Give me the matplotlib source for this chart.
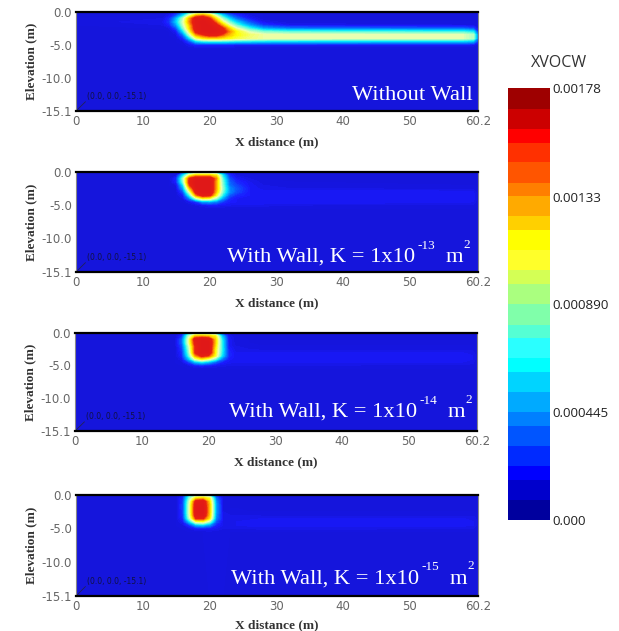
import numpy as np
import matplotlib
matplotlib.use("Agg")
import matplotlib.pyplot as plt
from matplotlib.colors import ListedColormap, BoundaryNorm, LinearSegmentedColormap
from matplotlib.cm import ScalarMappable

# grid nodes
x_nodes = [0, 13, 14, 15, 16, 17, 18, 19, 20, 21, 22, 23, 24, 26, 28, 32, 58, 59.5, 60.2]
z_nodes = [0, -0.5, -1, -1.5, -2, -2.5, -3, -3.5, -4, -4.5, -5, -5.5, -15.1]

# XVOCW x 1000, one row per z node
without_wall = [
    [.20, .20, .20, .25, .40, .60, .70, .70, .60, .40, .28, .22, .20, .20, .20, .20, .20, .20, .20],
    [.20, .20, .24, .35, .60, 1.0, 1.3, 1.4, 1.25, .90, .60, .40, .30, .22, .20, .20, .20, .20, .20],
    [.20, .22, .30, .55, .90, 1.35, 1.7, 1.72, 1.55, 1.2, .85, .60, .42, .26, .20, .20, .20, .20, .20],
    [.20, .24, .32, .60, .95, 1.4, 1.72, 1.78, 1.72, 1.4, 1.05, .80, .60, .36, .24, .20, .20, .20, .20],
    [.20, .22, .28, .50, .90, 1.3, 1.7, 1.78, 1.75, 1.6, 1.3, 1.0, .78, .50, .32, .24, .22, .22, .20],
    [.20, .20, .22, .35, .78, 1.25, 1.68, 1.78, 1.78, 1.72, 1.55, 1.25, 1.0, .72, .52, .42, .38, .34, .22],
    [.20, .20, .20, .25, .60, 1.1, 1.6, 1.75, 1.78, 1.75, 1.65, 1.4, 1.2, .95, .82, .76, .72, .66, .30],
    [.20, .20, .20, .22, .40, .90, 1.35, 1.5, 1.62, 1.6, 1.45, 1.3, 1.2, 1.08, 1.02, 1.0, .98, .90, .42],
    [.20, .20, .20, .20, .28, .62, 1.05, 1.2, 1.25, 1.25, 1.22, 1.18, 1.12, 1.06, 1.02, 1.0, .98, .90, .42],
    [.20, .20, .20, .20, .22, .35, .60, .68, .70, .70, .70, .68, .66, .64, .62, .60, .58, .54, .30],
    [.20, .20, .20, .20, .20, .24, .28, .28, .28, .28, .28, .27, .26, .26, .26, .26, .26, .24, .20],
    [.20] * 19,
    [.20] * 19,
]
k_13 = [
    [.20, .20, .20, .20, .24, .50, .65, .65, .65, .60, .35, .24, .20, .20, .20, .20, .20, .20, .20],
    [.20, .20, .20, .22, .62, 1.1, 1.3, 1.3, 1.3, 1.2, .65, .30, .22, .20, .20, .20, .20, .20, .20],
    [.20, .20, .20, .30, .85, 1.55, 1.72, 1.72, 1.72, 1.4, .75, .35, .26, .22, .20, .20, .20, .20, .20],
    [.20, .20, .20, .28, .80, 1.6, 1.78, 1.78, 1.78, 1.35, .80, .40, .30, .24, .21, .20, .20, .20, .20],
    [.20, .20, .20, .22, .62, 1.5, 1.78, 1.78, 1.78, 1.35, .82, .42, .34, .25, .22, .21, .20, .20, .20],
    [.20, .20, .20, .20, .50, 1.25, 1.75, 1.78, 1.78, 1.35, .85, .48, .38, .26, .23, .22, .21, .21, .20],
    [.20, .20, .20, .20, .35, 1.0, 1.65, 1.78, 1.78, 1.3, .80, .48, .36, .26, .25, .25, .25, .24, .20],
    [.20, .20, .20, .20, .26, .72, 1.4, 1.65, 1.6, 1.15, .68, .38, .30, .26, .26, .26, .26, .25, .21],
    [.20, .20, .20, .20, .22, .45, .90, 1.15, 1.1, .85, .50, .30, .26, .26, .26, .26, .26, .25, .21],
    [.20, .20, .20, .20, .20, .24, .32, .50, .52, .45, .32, .27, .26, .26, .26, .26, .25, .24, .20],
    [.20, .20, .20, .20, .20, .20, .22, .24, .26, .26, .25, .24, .23, .23, .23, .22, .21, .21, .20],
    [.20] * 19,
    [.20] * 19,
]
k_14 = [
    [.20, .20, .20, .20, .25, .60, .80, .80, .80, .70, .30, .22, .20, .20, .20, .20, .20, .20, .20],
    [.20, .20, .20, .20, .30, .90, 1.3, 1.35, 1.3, 1.2, .60, .24, .20, .20, .20, .20, .20, .20, .20],
    [.20, .20, .20, .20, .40, 1.0, 1.68, 1.75, 1.72, 1.3, .70, .26, .21, .20, .20, .20, .20, .20, .20],
    [.20, .20, .20, .20, .40, 1.0, 1.62, 1.78, 1.78, 1.3, .72, .26, .21, .20, .20, .20, .20, .20, .20],
    [.20, .20, .20, .20, .35, .90, 1.55, 1.78, 1.78, 1.25, .72, .26, .22, .21, .20, .20, .20, .20, .20],
    [.20, .20, .20, .20, .32, .85, 1.55, 1.78, 1.78, 1.2, .72, .28, .23, .22, .21, .21, .21, .21, .20],
    [.20, .20, .20, .20, .30, .80, 1.55, 1.78, 1.75, 1.2, .70, .30, .24, .24, .24, .24, .24, .23, .20],
    [.20, .20, .20, .20, .28, .72, 1.35, 1.6, 1.5, 1.15, .65, .30, .25, .25, .25, .25, .25, .24, .21],
    [.20, .20, .20, .20, .24, .55, 1.0, 1.2, 1.05, .80, .45, .27, .25, .25, .25, .25, .25, .24, .21],
    [.20, .20, .20, .20, .21, .32, .55, .65, .55, .40, .28, .25, .24, .24, .24, .24, .24, .23, .20],
    [.20, .20, .20, .20, .20, .22, .26, .28, .26, .24, .23, .22, .22, .22, .22, .22, .21, .21, .20],
    [.20] * 19,
    [.20] * 19,
]
k_15 = [
    [.20, .20, .20, .20, .26, .65, .80, .80, .68, .28, .20, .20, .20, .20, .20, .20, .20, .20, .20],
    [.20, .20, .20, .20, .30, .85, 1.25, 1.3, 1.15, .42, .21, .20, .20, .20, .20, .20, .20, .20, .20],
    [.20, .20, .20, .20, .33, .95, 1.65, 1.72, 1.25, .48, .22, .20, .20, .20, .20, .20, .20, .20, .20],
    [.20, .20, .20, .20, .34, 1.0, 1.72, 1.75, 1.3, .50, .22, .20, .20, .20, .20, .20, .20, .20, .20],
    [.20, .20, .20, .20, .34, 1.0, 1.75, 1.78, 1.3, .50, .22, .20, .20, .20, .20, .20, .20, .20, .20],
    [.20, .20, .20, .20, .33, 1.0, 1.75, 1.78, 1.3, .50, .22, .21, .21, .20, .20, .20, .20, .20, .20],
    [.20, .20, .20, .20, .32, .98, 1.72, 1.75, 1.28, .48, .23, .22, .22, .22, .21, .21, .21, .21, .20],
    [.20, .20, .20, .20, .30, .90, 1.55, 1.55, 1.2, .45, .24, .23, .23, .23, .24, .24, .24, .24, .20],
    [.20, .20, .20, .20, .25, .60, 1.05, 1.1, .85, .36, .24, .24, .24, .25, .25, .25, .25, .24, .21],
    [.20, .20, .20, .20, .21, .32, .55, .60, .48, .28, .24, .24, .24, .25, .25, .25, .25, .24, .21],
    [.20, .20, .20, .20, .20, .22, .26, .27, .26, .24, .22, .22, .22, .22, .23, .23, .22, .22, .20],
    [.20, .20, .20, .20, .20, .20, .20, .20, .21, .21, .21, .20, .20, .20, .20, .20, .20, .20, .20],
    [.20] * 19,
]

panels = [without_wall, k_13, k_14, k_15]
panel_boxes = [(76, 12, 111), (76, 172, 272), (75, 333, 431), (76, 495, 596)]  # left, top, bottom px

x_ticks = [0, 10, 20, 30, 40, 50, 60.2]
x_labels = ["0", "10", "20", "30", "40", "50", "60.2"]
y_ticks = [0, -5, -10, -15.1]
y_labels = ["0.0", "-5.0", "-10.0", "-15.1"]

# colorbar bands, bottom to top
cbar_levels = [0, .0825, .165, .2227, .3038, .389, .4467, .5278, .6117, .6667, .7519, .8041,
               .8893, .9732, 1.0281, 1.1134, 1.1945, 1.2508, 1.3361, 1.3897, 1.4749, 1.5546,
               1.6123, 1.6948, 1.78]
cbar_colors = ["#00009e", "#0000cc", "#0000ff", "#002aff", "#0055ff", "#0080ff", "#00aaff",
               "#00d4ff", "#00ffff", "#2affff", "#55ffd4", "#80ffaa", "#aaff7f", "#d4ff55",
               "#ffff2a", "#ffff00", "#ffd000", "#ffaa00", "#ff7f00", "#ff5500", "#ff3000",
               "#ff0000", "#cc0000", "#9e0000"]
cbar_ticks = [0, .445, .89, 1.33, 1.78]
cbar_labels = ["0.000", "0.000445", "0.000890", "0.00133", "0.00178"]

W, H = 619, 631
fig = plt.figure(figsize=(W / 100, H / 100), dpi=100)

# field colours, a bit duller than the bar like in the picture
field_cmap = LinearSegmentedColormap.from_list("field", [
    (0.0, "#1515dc"), (0.045, "#1a1aff"), (0.16, "#0080ff"), (0.285, "#00e8ff"),
    (0.38, "#70ffd8"), (0.506, "#ecffb0"), (0.633, "#ffff00"), (0.76, "#ff9000"),
    (0.86, "#e82010"), (1.0, "#e01818")])
field_levels = np.linspace(0.2, 1.78, 80)

for i, (data, (left, top, bottom)) in enumerate(zip(panels, panel_boxes)):
    ax = fig.add_axes([left / W, 1 - bottom / H, 402 / W, (bottom - top) / H])
    ax.contourf(x_nodes, z_nodes, np.array(data), levels=field_levels, cmap=field_cmap,
                extend="both", antialiased=False)
    ax.set_xlim(0, 60.2)
    ax.set_ylim(-15.1, 0)
    ax.set_xticks(x_ticks)
    ax.set_xticklabels(x_labels)
    ax.set_yticks(y_ticks)
    ax.set_yticklabels(y_labels)
    ax.tick_params(length=0, labelsize=8.5, labelcolor="#666666", pad=3)
    ax.set_xlabel("X distance (m)", family="Liberation Serif", weight="bold", fontsize=9.6,
                  color="#333333", labelpad=4.5 if i == 3 else 6)
    ax.set_ylabel("Elevation (m)", family="Liberation Serif", weight="bold", fontsize=9.5,
                  color="#333333", labelpad=3)
    for side in ["top", "bottom"]:
        ax.spines[side].set_color("black")
        ax.spines[side].set_linewidth(1.6)
    for side in ["left", "right"]:
        ax.spines[side].set_color("#888888")
        ax.spines[side].set_linewidth(0.8)
    ax.plot([0.2, 1.4], [-14.9, -13.7], color="#222255", lw=0.6)
    ax.text(1.7, -13.3, "(0.0, 0.0, -15.1)", fontsize=5.5, color="#111144")

serif = dict(family="Liberation Serif", color="white", ha="left", va="baseline")
fig.text(352 / W, 1 - 100 / H, "Without Wall", fontsize=16.2, **serif)

exponents = ["-13", "-14", "-15"]
caption_pos = [(227, 262, 249), (229, 417, 404), (231, 584, 570)]  # x, baseline, raised baseline
for exponent, (x0, base, raised) in zip(exponents, caption_pos):
    fig.text(x0 / W, 1 - base / H, "With Wall, K = 1x10", fontsize=16.2, **serif)
    fig.text((x0 + 190) / W, 1 - raised / H, exponent, fontsize=9.5, **serif)
    fig.text((x0 + 219) / W, 1 - base / H, "m", fontsize=16.2, **serif)
    fig.text((x0 + 236) / W, 1 - (raised - 1) / H, "2", fontsize=9.5, **serif)

# colorbar
cax = fig.add_axes([508 / W, 1 - 520 / H, 42 / W, 432 / H])
norm = BoundaryNorm(cbar_levels, len(cbar_colors))
cb = fig.colorbar(ScalarMappable(norm=norm, cmap=ListedColormap(cbar_colors)), cax=cax,
                  spacing="proportional", ticks=cbar_ticks)
cb.ax.set_yticklabels(cbar_labels)
cb.ax.tick_params(length=0, labelsize=9.6, labelcolor="#222222", pad=1.5)
for label in cb.ax.get_yticklabels():
    label.set_family("Open Sans")
cb.outline.set_visible(False)
cb.ax.minorticks_off()
fig.text(559 / W, 1 - 63 / H, "XVOCW", family="Open Sans", fontsize=11.5, color="#333333",
         ha="center", va="center")

plt.savefig("out.png", dpi=100)
